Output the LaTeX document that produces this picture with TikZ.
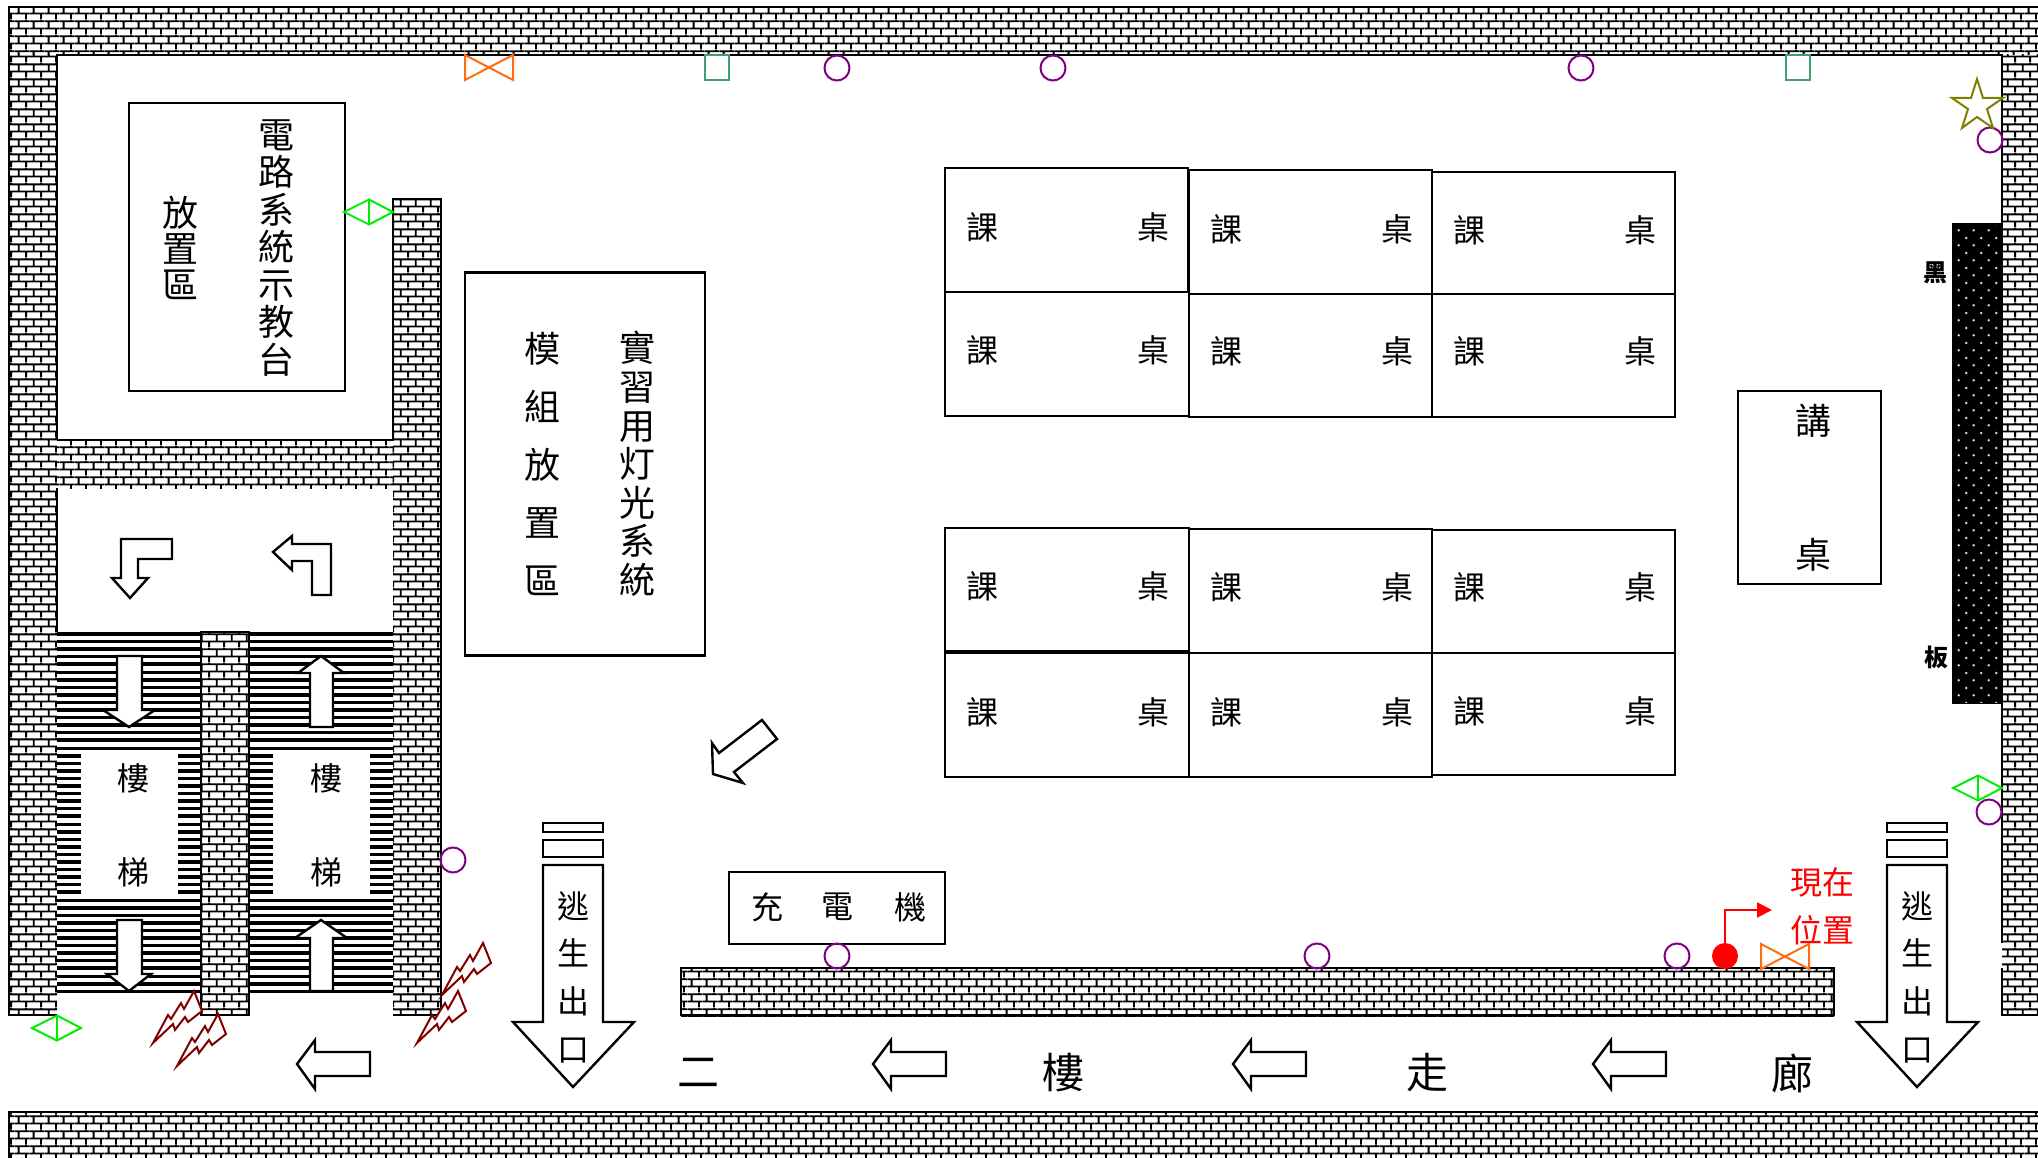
\documentclass[tikz,border=0pt]{standalone}
\usepackage{fontspec}
\setmainfont{Noto Sans CJK TC}
\usetikzlibrary{patterns,arrows.meta}

% wall and blackboard fills
\pgfdeclarepatternformonly{wallbricks}{\pgfpointorigin}{\pgfqpoint{15.3pt}{15.2pt}}{\pgfqpoint{15.3pt}{15.2pt}}{
    \pgfsetlinewidth{1.9pt}
    \pgfpathmoveto{\pgfqpoint{0pt}{5.7pt}}\pgfpathlineto{\pgfqpoint{15.3pt}{5.7pt}}
    \pgfpathmoveto{\pgfqpoint{0pt}{13.3pt}}\pgfpathlineto{\pgfqpoint{15.3pt}{13.3pt}}
    \pgfpathmoveto{\pgfqpoint{3.8pt}{5.7pt}}\pgfpathlineto{\pgfqpoint{3.8pt}{13.3pt}}
    \pgfpathmoveto{\pgfqpoint{11.45pt}{13.3pt}}\pgfpathlineto{\pgfqpoint{11.45pt}{15.2pt}}
    \pgfpathmoveto{\pgfqpoint{11.45pt}{0pt}}\pgfpathlineto{\pgfqpoint{11.45pt}{5.7pt}}
    \pgfusepath{stroke}
}
\pgfdeclarepatternformonly{boarddots}{\pgfpointorigin}{\pgfqpoint{15.4pt}{14.8pt}}{\pgfqpoint{15.4pt}{14.8pt}}{
    \pgfpathcircle{\pgfqpoint{3.85pt}{3.7pt}}{1.4pt}
    \pgfpathcircle{\pgfqpoint{11.55pt}{11.1pt}}{1.4pt}
    \pgfusepath{fill}
}

\definecolor{lamp}{HTML}{800080}
\definecolor{fan}{HTML}{FF6E0E}
\definecolor{socket}{HTML}{3F9F6F}
\definecolor{sensor}{HTML}{00EE00}
\definecolor{alarm}{HTML}{808000}
\definecolor{bolt}{HTML}{800000}

\tikzset{
    cjk/.style 2 args={font=\fontsize{#1}{#2}\selectfont, align=center, inner sep=0pt},
    wallbrick/.style={preaction={fill=white}, pattern=wallbricks},
    wallline/.style={draw=black, line width=2.5pt},
    boxline/.style={draw=black, line width=2.2pt, fill=white},
    stairarrow/.style={draw=black, line width=2.4pt, fill=white},
    lampmark/.style={circle, draw=lamp, line width=2pt, minimum size=25pt, inner sep=0pt},
    fanmark/.style={draw=fan, line width=2pt},
    socketmark/.style={draw=socket, line width=2pt},
    sensormark/.style={draw=sensor, line width=2pt},
    boltmark/.style={draw=bolt, line width=2pt, fill=white},
}

\begin{document}
\begin{tikzpicture}[x=1pt, y=-1pt]
    \useasboundingbox (0,0) rectangle (2038,1158);

    % walls
    \fill[wallbrick] (9,7) rectangle (2038,55);
    \fill[wallbrick] (9,55) rectangle (57,1015);
    \fill[wallbrick] (2002,55) rectangle (2038,1015);
    \fill[wallbrick] (9,1112) rectangle (2038,1158);
    \fill[wallbrick] (393,199) rectangle (441,1015);
    \fill[wallbrick] (57,440) rectangle (393,488);
    \fill[wallbrick] (681,968) rectangle (1834,1016);

    \draw[wallline] (2038,7) -- (9,7) -- (9,1015) -- (57,1015);
    \draw[wallline] (57,632) -- (57,488);
    \draw[wallline] (57,440) -- (57,55) -- (2002,55) -- (2002,943);
    \draw[wallline] (2002,968) -- (2002,1015) -- (2038,1015);
    \draw[wallline] (9,1158) -- (9,1112) -- (2038,1112);
    \draw[wallline] (57,440) -- (393,440) -- (393,199) -- (441,199) -- (441,1015) -- (393,1015);
    \draw[wallline] (681,1015) -- (681,968) -- (1834,968) -- (1834,1015) -- cycle;

    % stairs
    \fill[white] (57,634) rectangle (393,991);
    \foreach \i in {0,...,47}{
        \pgfmathsetmacro{\ystep}{634+7.6*\i}
        \pgfmathsetmacro{\wstep}{mod(\i,2)==0 ? 4 : 3}
        \draw[line width=\wstep pt] (57,\ystep) -- (393,\ystep);
    }
    \fill[white] (81,752) rectangle (178,897);
    \fill[white] (273,752) rectangle (370,897);
    \fill[wallbrick] (201,632) rectangle (249,1015);
    \draw[wallline] (201,632) rectangle (249,1015);

    \node[cjk={32}{94}] (stairsa) at (133,825) {樓\\梯};
    \node[cjk={32}{94}] (stairsb) at (326,825) {樓\\梯};

    \draw[stairarrow] (117,656) -- (142,656) -- (142,710) -- (155,710) -- (129,727) -- (103,710) -- (117,710) -- cycle;
    \draw[stairarrow] (117,920) -- (142,920) -- (142,974) -- (151,974) -- (129,991) -- (107,974) -- (117,974) -- cycle;
    \draw[stairarrow] (321,656) -- (344,673) -- (333,673) -- (333,727) -- (310,727) -- (310,673) -- (298,673) -- cycle;
    \draw[stairarrow] (321,920) -- (347,938) -- (333,938) -- (333,991) -- (310,991) -- (310,938) -- (295,938) -- cycle;

    \draw[stairarrow] (121,539) -- (172,539) -- (172,559) -- (138,559) -- (138,578) -- (148,578) -- (130,598) -- (112,578) -- (121,578) -- cycle;
    \draw[stairarrow] (273,552) -- (292,536) -- (292,544) -- (331,544) -- (331,595) -- (312,595) -- (312,561) -- (292,561) -- (292,570) -- cycle;
    \draw[stairarrow] (762,720) -- (777,739) -- (734,772) -- (743,783) -- (713,774) -- (712,743) -- (719,753) -- cycle;

    % corridor arrows
    \foreach \dx in {0,576,936,1296}{
        \begin{scope}[shift={(\dx,0)}]
            \draw[stairarrow] (297,1064) -- (315,1040) -- (315,1052) -- (370,1052) -- (370,1076) -- (315,1076) -- (315,1089) -- cycle;
        \end{scope}
    }

    % exit arrows
    \foreach \dx/\exitname in {0/exita,1344/exitb}{
        \begin{scope}[shift={(\dx,0)}]
            \draw[stairarrow] (543,823) rectangle (603,832);
            \draw[stairarrow] (543,840) rectangle (603,857);
            \draw[stairarrow] (543,865) -- (603,865) -- (603,1022) -- (634,1022) -- (573,1087) -- (513,1022) -- (543,1022) -- cycle;
            \node[cjk={32}{47.7}] (\exitname) at (573,977) {逃\\生\\出\\口};
        \end{scope}
    }

    % room furniture
    \node[boxline, minimum width=216pt, minimum height=288pt] (demobox) at (237,247) {};
    \node[cjk={36}{37.5}] (demotext) at (276,248) {電\\路\\系\\統\\示\\教\\台};
    \node[cjk={36}{36}] (demoarea) at (180,248) {放\\置\\區};

    \node[boxline, minimum width=240pt, minimum height=383pt] (modulebox) at (585,464) {};
    \node[cjk={36}{38.6}] (moduletext) at (637,464) {實\\習\\用\\灯\\光\\系\\統};
    \node[cjk={36}{58}] (modulearea) at (542,464) {模\\組\\放\\置\\區};

    \node[boxline, minimum width=143pt, minimum height=193pt] (podium) at (1809.5,487.5) {};
    \node[cjk={36}{36}] (podiuma) at (1813,421) {講};
    \node[cjk={36}{36}] (podiumb) at (1813,555) {桌};

    \node[boxline, minimum width=216pt, minimum height=72pt] (charger) at (837,908) {};
    \node[cjk={32}{32}] (chargera) at (767,907) {充};
    \node[cjk={32}{32}] (chargerb) at (837,907) {電};
    \node[cjk={32}{32}] (chargerc) at (910,907) {機};

    % desks
    \foreach \xa/\ya/\xb/\yb/\yt [count=\i] in {
        945/168/1188/292/227, 1189/170/1432/294/229, 1432/172/1675/294/230,
        945/292/1189/416/350, 1189/294/1432/417/351, 1432/294/1675/417/351,
        945/528/1189/651/586, 1189/529/1432/653/587, 1432/530/1675/653/587,
        945/653/1189/777/712, 1189/653/1432/777/712, 1432/653/1675/775/711}{
        \draw[line width=2.2pt] (\xa,\ya) rectangle (\xb,\yb);
        \node[cjk={32}{32}] (deska\i) at (\xa+37,\yt) {課};
        \node[cjk={32}{32}] (deskb\i) at (\xa+208,\yt) {桌};
    }

    % blackboard
    \fill[black] (1952,223) rectangle (2002,704);
    \fill[pattern=boarddots, pattern color=white!85!black] (1954,225) rectangle (2001,702);
    \node[cjk={24}{24}, font=\bfseries\fontsize{24}{24}\selectfont] (boarda) at (1935,273) {黑};
    \node[cjk={24}{24}, font=\bfseries\fontsize{24}{24}\selectfont] (boardb) at (1936,657) {板};

    % corridor text
    \node[cjk={42}{42}] (hallway1) at (698,1073) {二};
    \node[cjk={42}{42}] (hallway2) at (1063,1073) {樓};
    \node[cjk={42}{42}] (hallway3) at (1427,1073) {走};
    \node[cjk={42}{42}] (hallway4) at (1792,1073) {廊};

    % lamps
    \foreach \x/\y [count=\i] in {837/68, 1053/68, 1581/68, 1990/140, 1989/812, 453/860, 837/956, 1317/956, 1677/956}{
        \node[lampmark] (lamp\i) at (\x,\y) {};
    }

    % fans and sockets
    \foreach \x/\y in {465/55, 1761/944}{
        \draw[fanmark] (\x,\y) -- (\x+48,\y+25) -- (\x+48,\y) -- (\x,\y+25) -- cycle;
    }
    \foreach \x in {705,1786}{
        \draw[socketmark] (\x,55) rectangle (\x+24,80);
    }

    % sensors
    \foreach \x/\y in {344/212, 32/1028, 1953/788}{
        \draw[sensormark] (\x,\y) -- (\x+25,\y-12.5) -- (\x+49,\y) -- (\x+25,\y+12.5) -- cycle;
        \draw[sensormark] (\x+25,\y-12.5) -- (\x+25,\y+12.5);
    }

    % alarm star
    \draw[draw=alarm, line width=2pt] (1977,79) -- (1983,98) -- (2003,98) -- (1987,109) -- (1993,128) -- (1977,117) -- (1962,128) -- (1968,109) -- (1952,98) -- (1971,98) -- cycle;

    % bolts
    \foreach \x/\y in {153/1043, 177/1066, 417/1043, 442/995}{
        \begin{scope}[shift={(\x,\y)}]
            \draw[boltmark] (0,0) -- (15,-28) -- (18,-24) -- (28,-40) -- (31,-34) -- (41,-52) -- (49,-32) -- (35,-21) -- (32,-26) -- (22,-13) -- (20,-19) -- cycle;
        \end{scope}
    }

    % current position
    \node[circle, fill=red, minimum size=26pt, inner sep=0pt] (here) at (1725,956) {};
    \coordinate (hereend) at (1772,910);
    \draw[red, line width=2pt, -{Triangle[length=15pt,width=15pt]}] (here.north) |- (hereend);
    \node[cjk={32}{48}, text=red] (heretext) at (1822,906) {現在\\位置};
\end{tikzpicture}
\end{document}
